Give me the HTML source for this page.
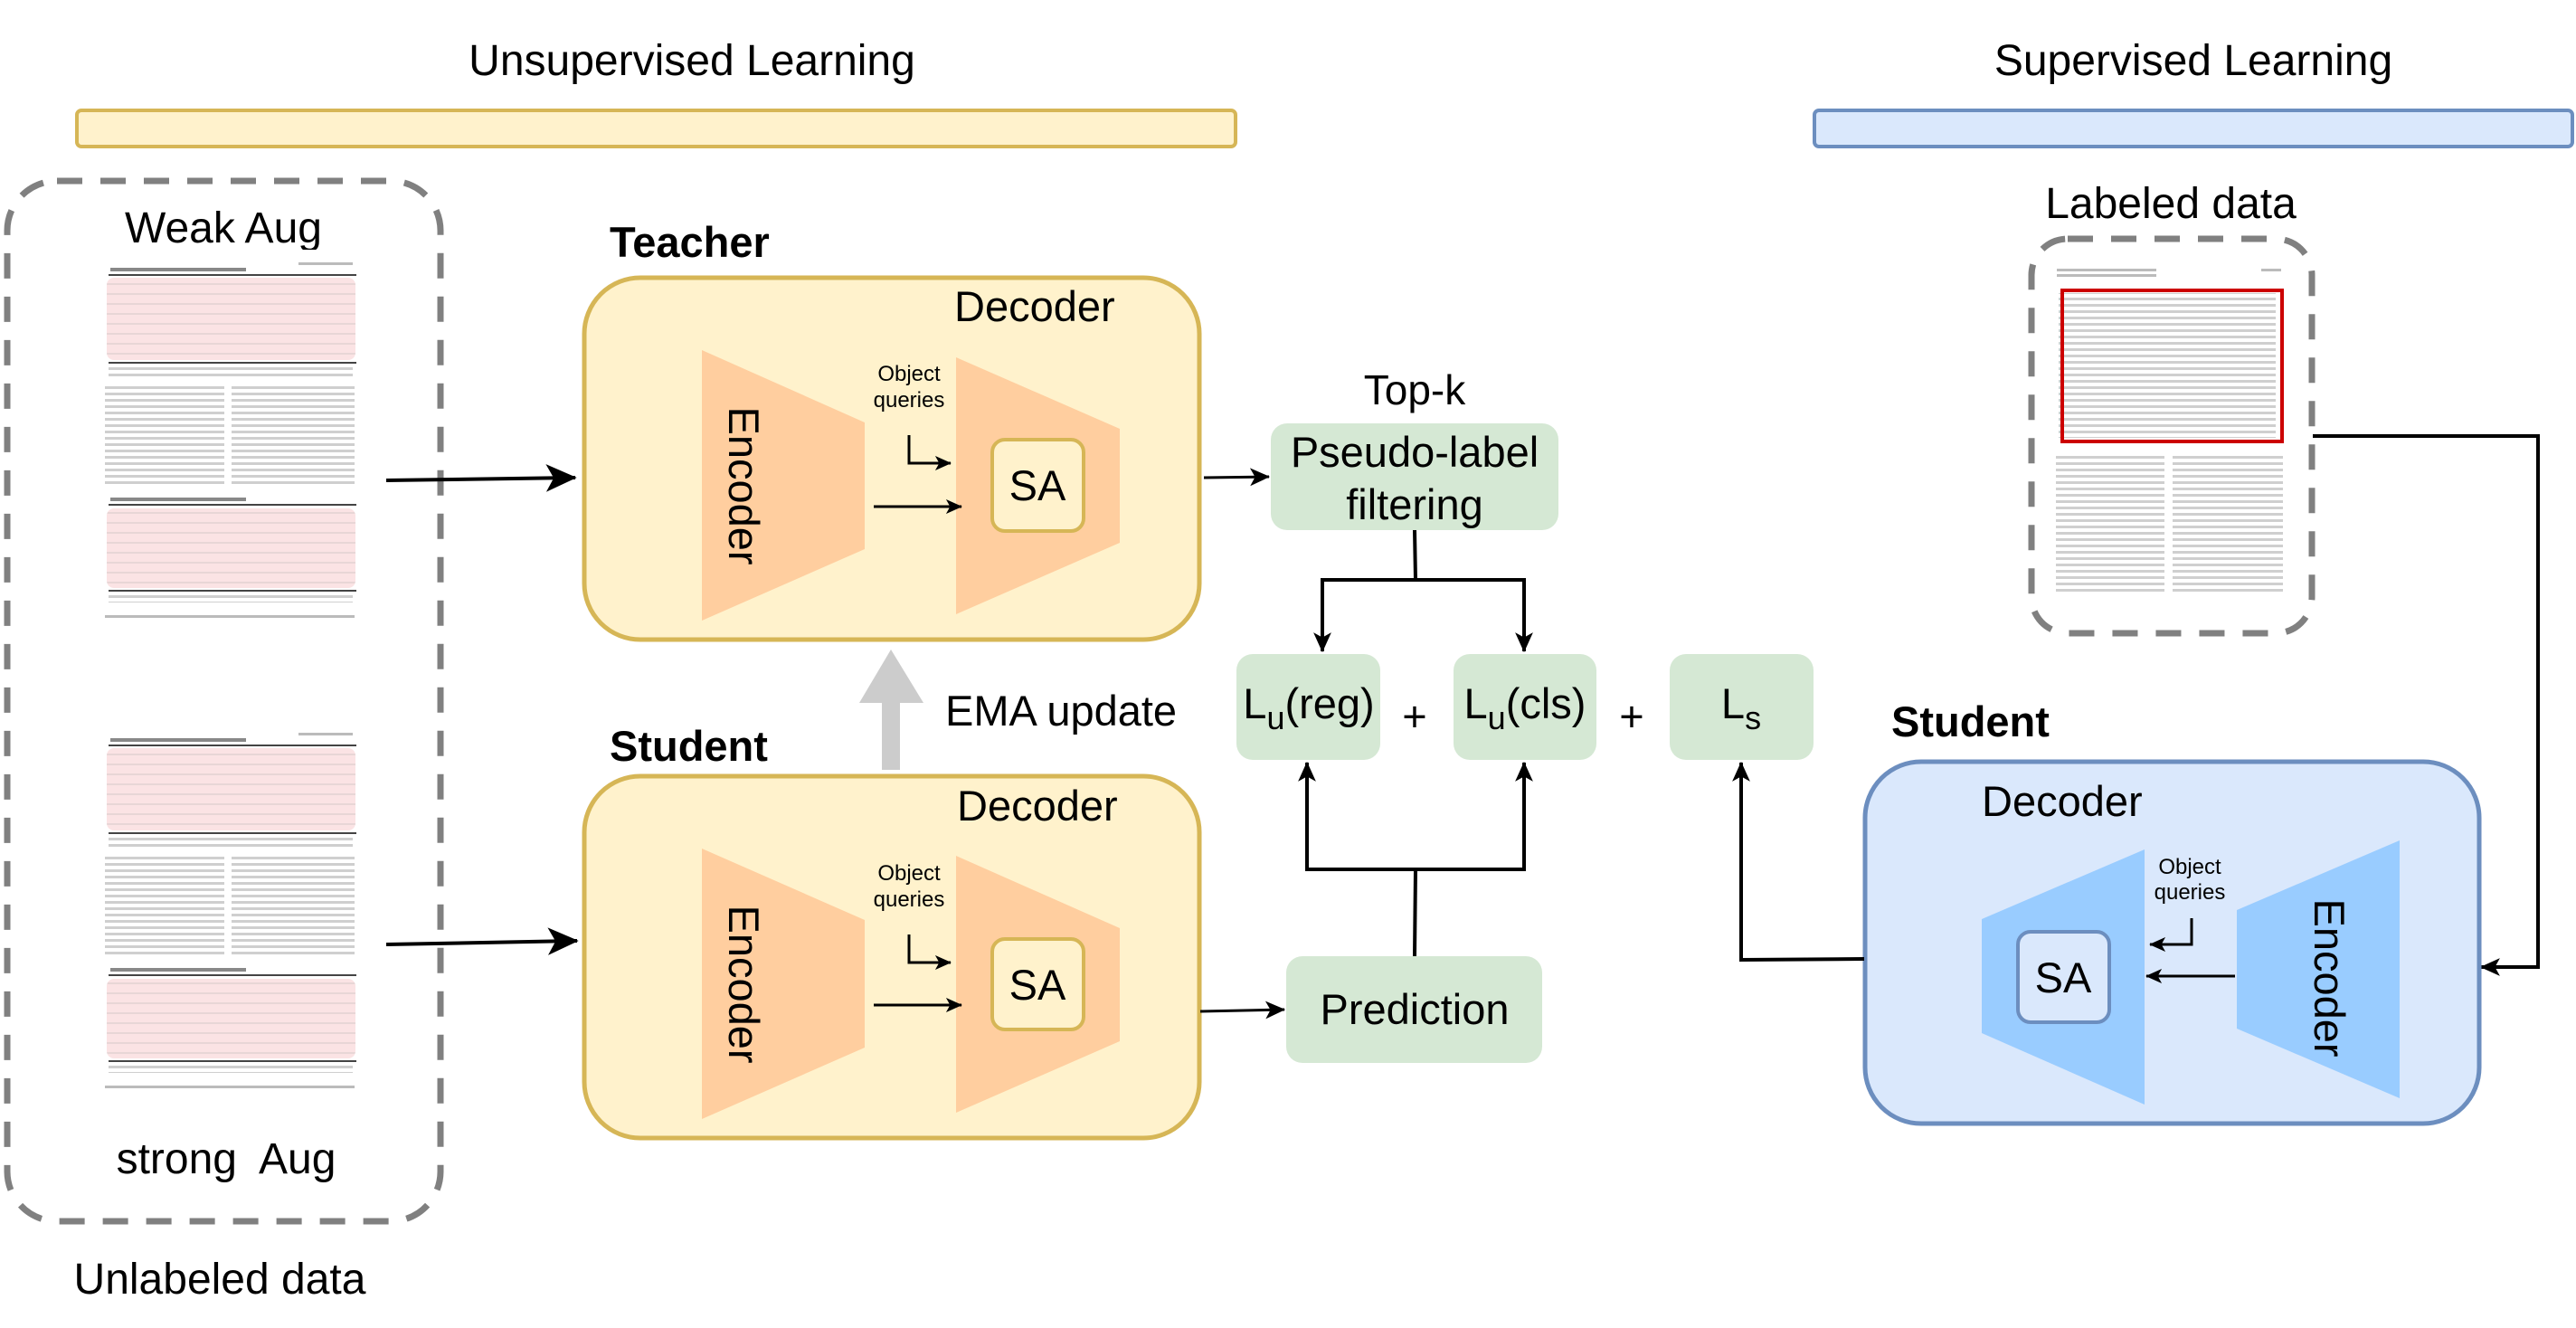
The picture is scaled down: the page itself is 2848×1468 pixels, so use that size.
<!DOCTYPE html>
<html><head><meta charset="utf-8"><style>
html,body{margin:0;padding:0;background:#fff;}
svg{display:block;}
text{font-family:"Liberation Sans",Arial,sans-serif;fill:#000;}
</style></head><body>
<svg width="2848" height="1468" viewBox="0 0 2848 1468" xmlns="http://www.w3.org/2000/svg">
<defs>
<marker id="a" viewBox="0 0 20 20" refX="19" refY="10" markerWidth="22" markerHeight="22" markerUnits="userSpaceOnUse" orient="auto"><path d="M0,1 L20,10 L0,19 L5,10 z" fill="#000"/></marker>
<marker id="b" viewBox="0 0 20 20" refX="19" refY="10" markerWidth="34" markerHeight="34" markerUnits="userSpaceOnUse" orient="auto"><path d="M0,1 L20,10 L0,19 L5,10 z" fill="#000"/></marker>
<marker id="s" viewBox="0 0 20 20" refX="19" refY="10" markerWidth="18" markerHeight="18" markerUnits="userSpaceOnUse" orient="auto"><path d="M0,1 L20,10 L0,19 L5,10 z" fill="#000"/></marker>
<pattern id="txt" width="10" height="7" patternUnits="userSpaceOnUse"><rect width="10" height="3" fill="#cfcfcf"/></pattern>
<pattern id="tbl" width="10" height="11" patternUnits="userSpaceOnUse"><rect width="10" height="11" fill="#fbe3e4"/><rect y="5" width="10" height="2" fill="#e8d6d6"/></pattern>
<g id="doc1">
 <rect x="116" y="276" width="280" height="412" fill="#fff"/>
 <rect x="330" y="290" width="60" height="3" fill="#bbb"/>
 <rect x="122" y="296" width="150" height="4" fill="#888"/>
 <rect x="120" y="303" width="274" height="2" fill="#444"/>
 <rect x="118" y="307" width="275" height="91" rx="8" fill="url(#tbl)"/>
 <rect x="120" y="400" width="274" height="2" fill="#444"/>
 <rect x="120" y="404" width="270" height="14" fill="url(#txt)"/>
 <rect x="116" y="423" width="132" height="112" fill="url(#txt)"/>
 <rect x="256" y="423" width="136" height="112" fill="url(#txt)"/>
 <rect x="122" y="550" width="150" height="4" fill="#888"/>
 <rect x="120" y="557" width="274" height="2" fill="#444"/>
 <rect x="118" y="562" width="275" height="88" rx="8" fill="url(#tbl)"/>
 <rect x="120" y="652" width="274" height="2" fill="#444"/>
 <rect x="120" y="656" width="270" height="10" fill="url(#txt)"/>
 <rect x="116" y="680" width="276" height="3" fill="#bbb"/>
</g>
</defs>

<text x="765" y="83" font-size="48" text-anchor="middle">Unsupervised Learning</text>
<rect x="85" y="122" width="1281" height="40" rx="5" fill="#fff2cc" stroke="#d6b656" stroke-width="4"/>
<text x="2425" y="83" font-size="48" text-anchor="middle">Supervised Learning</text>
<rect x="2006" y="122" width="838" height="40" rx="5" fill="#dae8fc" stroke="#6c8ebf" stroke-width="4"/>

<rect x="8" y="200" width="479" height="1150" rx="55" fill="none" stroke="#808080" stroke-width="7" stroke-dasharray="28 20"/>
<text x="247" y="268" font-size="48" text-anchor="middle">Weak Aug</text>
<use href="#doc1"/>
<use href="#doc1" y="520"/>
<text x="250" y="1297" font-size="48" text-anchor="middle" xml:space="preserve">strong  Aug</text>
<text x="243" y="1430" font-size="48" text-anchor="middle">Unlabeled data</text>

<line x1="427" y1="531" x2="636" y2="528" stroke="#000" stroke-width="4" marker-end="url(#b)"/>
<line x1="427" y1="1044" x2="638" y2="1040" stroke="#000" stroke-width="4" marker-end="url(#b)"/>

<text x="674" y="284" font-size="47" font-weight="bold">Teacher</text>
<rect x="646" y="307" width="680" height="400" rx="62" fill="#fff2cc" stroke="#d6b656" stroke-width="5"/>
<text x="1055" y="355" font-size="47">Decoder</text>
<polygon points="776,387 956,467 956,607 776,686" fill="#ffce9f"/>
<text transform="translate(822,537) rotate(90)" font-size="47" text-anchor="middle" dy="16">Encoder</text>
<polygon points="1057,395 1238,474 1238,600 1057,679" fill="#ffce9f"/>
<rect x="1097" y="486" width="101" height="101" rx="14" fill="#fff2cc" stroke="#d6b656" stroke-width="4"/>
<text x="1147" y="553" font-size="47" text-anchor="middle">SA</text>
<text x="1005" y="421" font-size="24" text-anchor="middle">Object</text>
<text x="1005" y="450" font-size="24" text-anchor="middle">queries</text>
<polyline points="1005,481 1005,512 1051,512" fill="none" stroke="#000" stroke-width="3" marker-end="url(#s)"/>
<line x1="966" y1="560" x2="1063" y2="560" stroke="#000" stroke-width="3" marker-end="url(#s)"/>

<polygon points="975,851 995,851 995,777 1021,777 985,718 950,777 975,777" fill="#cccccc"/>
<text x="1045" y="802" font-size="47">EMA update</text>

<text x="674" y="841" font-size="47" font-weight="bold">Student</text>
<rect x="646" y="858" width="680" height="400" rx="62" fill="#fff2cc" stroke="#d6b656" stroke-width="5"/>
<text x="1058" y="907" font-size="47">Decoder</text>
<polygon points="776,938 956,1017 956,1158 776,1237" fill="#ffce9f"/>
<text transform="translate(822,1088) rotate(90)" font-size="47" text-anchor="middle" dy="16">Encoder</text>
<polygon points="1057,946 1238,1026 1238,1151 1057,1230" fill="#ffce9f"/>
<rect x="1097" y="1038" width="101" height="100" rx="14" fill="#fff2cc" stroke="#d6b656" stroke-width="4"/>
<text x="1147" y="1105" font-size="47" text-anchor="middle">SA</text>
<text x="1005" y="973" font-size="24" text-anchor="middle">Object</text>
<text x="1005" y="1002" font-size="24" text-anchor="middle">queries</text>
<polyline points="1005,1033 1005,1064 1051,1064" fill="none" stroke="#000" stroke-width="3" marker-end="url(#s)"/>
<line x1="966" y1="1111" x2="1063" y2="1111" stroke="#000" stroke-width="3" marker-end="url(#s)"/>

<line x1="1331" y1="528" x2="1403" y2="527" stroke="#000" stroke-width="3" marker-end="url(#a)"/>
<text x="1564" y="447" font-size="46" text-anchor="middle">Top-k</text>
<rect x="1405" y="468" width="318" height="118" rx="18" fill="#d5e8d4"/>
<text x="1564" y="516" font-size="47" text-anchor="middle">Pseudo-label</text>
<text x="1564" y="574" font-size="47" text-anchor="middle">filtering</text>
<polyline points="1564,586 1565,641" fill="none" stroke="#000" stroke-width="4"/>
<polyline points="1462,719 1462,641 1685,641 1685,719" fill="none" stroke="#000" stroke-width="4"/>
<line x1="1462" y1="700" x2="1462" y2="720" stroke="#000" stroke-width="4" marker-end="url(#a)"/>
<line x1="1685" y1="700" x2="1685" y2="720" stroke="#000" stroke-width="4" marker-end="url(#a)"/>

<rect x="1367" y="723" width="159" height="117" rx="18" fill="#d5e8d4"/>
<text x="1447" y="794" font-size="47" text-anchor="middle">L<tspan font-size="36" dy="12">u</tspan><tspan dy="-12">(reg)</tspan></text>
<text x="1564" y="808" font-size="47" text-anchor="middle">+</text>
<rect x="1607" y="723" width="158" height="117" rx="18" fill="#d5e8d4"/>
<text x="1686" y="794" font-size="47" text-anchor="middle">L<tspan font-size="36" dy="12">u</tspan><tspan dy="-12">(cls)</tspan></text>
<text x="1804" y="808" font-size="47" text-anchor="middle">+</text>
<rect x="1846" y="723" width="159" height="117" rx="18" fill="#d5e8d4"/>
<text x="1925" y="794" font-size="47" text-anchor="middle">L<tspan font-size="36" dy="12">s</tspan></text>

<line x1="1327" y1="1118" x2="1420" y2="1116" stroke="#000" stroke-width="3" marker-end="url(#a)"/>
<rect x="1422" y="1057" width="283" height="118" rx="18" fill="#d5e8d4"/>
<text x="1564" y="1132" font-size="47" text-anchor="middle">Prediction</text>
<polyline points="1564,1057 1565,961" fill="none" stroke="#000" stroke-width="4"/>
<polyline points="1445,845 1445,961 1685,961 1685,845" fill="none" stroke="#000" stroke-width="4"/>
<line x1="1445" y1="870" x2="1445" y2="843" stroke="#000" stroke-width="4" marker-end="url(#a)"/>
<line x1="1685" y1="870" x2="1685" y2="843" stroke="#000" stroke-width="4" marker-end="url(#a)"/>

<text x="2400" y="241" font-size="48" text-anchor="middle">Labeled data</text>
<rect x="2246" y="264" width="310" height="436" rx="40" fill="none" stroke="#808080" stroke-width="7" stroke-dasharray="28 20"/>
<rect x="2272" y="292" width="255" height="365" fill="#fff"/>
<rect x="2274" y="297" width="110" height="3" fill="#bbb"/>
<rect x="2274" y="303" width="110" height="3" fill="#bbb"/>
<rect x="2500" y="297" width="22" height="3" fill="#bbb"/>
<rect x="2276" y="324" width="240" height="160" fill="url(#txt)"/>
<rect x="2280" y="321" width="243" height="167" fill="none" stroke="#cc0000" stroke-width="4"/>
<rect x="2273" y="500" width="120" height="155" fill="url(#txt)"/>
<rect x="2402" y="500" width="122" height="155" fill="url(#txt)"/>
<polyline points="2557,482 2806,482 2806,1069 2743,1069" fill="none" stroke="#000" stroke-width="4" marker-end="url(#a)"/>

<text x="2091" y="814" font-size="47" font-weight="bold">Student</text>
<rect x="2062" y="842" width="679" height="400" rx="62" fill="#dae8fc" stroke="#6c8ebf" stroke-width="5"/>
<text x="2191" y="902" font-size="47">Decoder</text>
<polygon points="2191,1016 2371,939 2371,1221 2191,1142" fill="#99ccff"/>
<rect x="2231" y="1030" width="101" height="100" rx="14" fill="#dae8fc" stroke="#6c8ebf" stroke-width="4"/>
<text x="2281" y="1097" font-size="47" text-anchor="middle">SA</text>
<polygon points="2473,1006 2653,929 2653,1214 2473,1137" fill="#99ccff"/>
<text transform="translate(2575,1081) rotate(90)" font-size="47" text-anchor="middle" dy="16">Encoder</text>
<text x="2421" y="966" font-size="24" text-anchor="middle">Object</text>
<text x="2421" y="994" font-size="24" text-anchor="middle">queries</text>
<polyline points="2423,1015 2423,1044 2377,1044" fill="none" stroke="#000" stroke-width="3" marker-end="url(#s)"/>
<line x1="2471" y1="1079" x2="2373" y2="1079" stroke="#000" stroke-width="3" marker-end="url(#s)"/>
<polyline points="2061,1060 1925,1061 1925,843" fill="none" stroke="#000" stroke-width="4" marker-end="url(#a)"/>
</svg>
</body></html>
